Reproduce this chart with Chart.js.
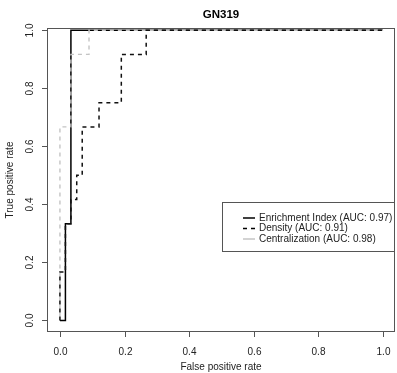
<!DOCTYPE html>
<html lang="en">
<head>
<meta charset="UTF-8">
<title>GN319 - ROC</title>
<script src="https://cdn.jsdelivr.net/npm/chart.js"></script>
<style>
  html, body { margin: 0; padding: 0; background: #fff; }
</style>
</head>
<body>
<canvas id="rocCanvas" width="397" height="373"></canvas>
<script>
// dados
const titulo = 'GN319';
const xTitulo = 'False positive rate';
const yTitulo = 'True positive rate';
const tickValores = [0, 0.2, 0.4, 0.6, 0.8, 1.0];
const tickLabels = ['0.0', '0.2', '0.4', '0.6', '0.8', '1.0'];
const nomes = ['Enrichment Index (AUC: 0.97)', 'Density (AUC: 0.91)', 'Centralization (AUC: 0.98)'];

const enrichFpr = [0, 0.017, 0.017, 0.034, 0.034, 1];
const enrichTpr = [0, 0, 0.333, 0.333, 1, 1];

const densFpr = [0, 0, 0.017, 0.017, 0.034, 0.034, 0.052, 0.052, 0.069, 0.069, 0.121, 0.121, 0.19, 0.19, 0.267, 0.267, 1];
const densTpr = [0, 0.167, 0.167, 0.333, 0.333, 0.417, 0.417, 0.5, 0.5, 0.667, 0.667, 0.75, 0.75, 0.917, 0.917, 1, 1];

const centFpr = [0, 0, 0.034, 0.034, 0.09, 0.09, 1];
const centTpr = [0, 0.667, 0.667, 0.917, 0.917, 1, 1];

function pontos(xs, ys) {
    let p = [];
    for (let i = 0; i < xs.length; i++) p.push({ x: xs[i], y: ys[i] });
    return p;
}

const FONTE = '"Liberation Sans", Arial, Helvetica, sans-serif';

// eixos, caixa, titulos e legenda desenhados a mao (estilo R)
const estiloR = {
    id: 'estiloR',
    afterDraw(chart) {
        const ctx = chart.ctx;
        const a = chart.chartArea;
        const sx = chart.scales.x, sy = chart.scales.y;
        ctx.save();

        // caixa
        ctx.strokeStyle = '#555';
        ctx.lineWidth = 1;
        ctx.strokeRect(a.left + 0.5, a.top + 0.5, a.right - a.left - 1, a.bottom - a.top - 1);

        // ticks
        ctx.fillStyle = '#222';
        ctx.font = '10px ' + FONTE;
        for (let i = 0; i < tickValores.length; i++) {
            const px = Math.round(sx.getPixelForValue(tickValores[i])) + 0.5;
            ctx.beginPath();
            ctx.moveTo(px, a.bottom);
            ctx.lineTo(px, a.bottom + 5);
            ctx.stroke();
            ctx.textAlign = 'center';
            ctx.textBaseline = 'middle';
            ctx.fillText(tickLabels[i], px, a.bottom + 20);

            const py = Math.round(sy.getPixelForValue(tickValores[i])) + 0.5;
            ctx.beginPath();
            ctx.moveTo(a.left, py);
            ctx.lineTo(a.left - 5, py);
            ctx.stroke();
            ctx.save();
            ctx.translate(a.left - 17, py);
            ctx.rotate(-Math.PI / 2);
            ctx.fillText(tickLabels[i], 0, 0);
            ctx.restore();
        }

        // titulos dos eixos
        ctx.textAlign = 'center';
        ctx.textBaseline = 'middle';
        ctx.fillText(xTitulo, (a.left + a.right) / 2, a.bottom + 35);
        ctx.save();
        ctx.translate(10, (a.top + a.bottom) / 2);
        ctx.rotate(-Math.PI / 2);
        ctx.fillText(yTitulo, 0, 0);
        ctx.restore();

        // titulo principal
        ctx.fillStyle = '#000';
        ctx.font = 'bold 11.5px ' + FONTE;
        ctx.fillText(titulo, (a.left + a.right) / 2, 15);

        // legenda
        const lx = 222, ly = 202, lw = a.right - lx, lh = 50;
        ctx.fillStyle = '#fff';
        ctx.fillRect(lx, ly, lw, lh);
        ctx.strokeStyle = '#555';
        ctx.strokeRect(lx + 0.5, ly + 0.5, lw - 1, lh - 1);
        const cores = ['#000', '#000', '#c4c4c4'];
        const tracos = [[], [4, 4], []];
        ctx.font = '10px ' + FONTE;
        ctx.textAlign = 'left';
        for (let i = 0; i < nomes.length; i++) {
            const yy = ly + 16 + i * 10.5;
            ctx.strokeStyle = cores[i];
            ctx.lineWidth = 1.5;
            ctx.setLineDash(tracos[i]);
            ctx.beginPath();
            ctx.moveTo(243, yy);
            ctx.lineTo(255, yy);
            ctx.stroke();
            ctx.setLineDash([]);
            ctx.fillStyle = '#222';
            ctx.fillText(nomes[i], 259, yy);
        }
        ctx.restore();
    }
};

const config = {
    type: 'scatter',
    data: {
        datasets: [
            {
                label: nomes[1],
                data: pontos(densFpr, densTpr),
                showLine: true,
                borderColor: '#111',
                borderWidth: 1.5,
                borderDash: [4, 4],
                pointRadius: 0,
                tension: 0,
                order: 0
            },
            {
                label: nomes[2],
                data: pontos(centFpr, centTpr),
                showLine: true,
                borderColor: '#c4c4c4',
                borderWidth: 1.4,
                borderDash: [4, 4],
                borderDashOffset: 4,
                pointRadius: 0,
                tension: 0,
                order: 1
            },
            {
                label: nomes[0],
                data: pontos(enrichFpr, enrichTpr),
                showLine: true,
                borderColor: '#000',
                borderWidth: 1.5,
                pointRadius: 0,
                tension: 0,
                order: 2
            }
        ]
    },
    options: {
        responsive: false,
        devicePixelRatio: 1,
        animation: false,
        layout: { padding: { left: 47, right: 2, top: 28, bottom: 41 } },
        scales: {
            x: { type: 'linear', min: -0.04, max: 1.037, display: false },
            y: { type: 'linear', min: -0.04, max: 1.008, display: false }
        },
        plugins: {
            legend: { display: false },
            tooltip: { enabled: false }
        }
    },
    plugins: [estiloR]
};

new Chart(document.getElementById('rocCanvas'), config);
</script>
</body>
</html>
